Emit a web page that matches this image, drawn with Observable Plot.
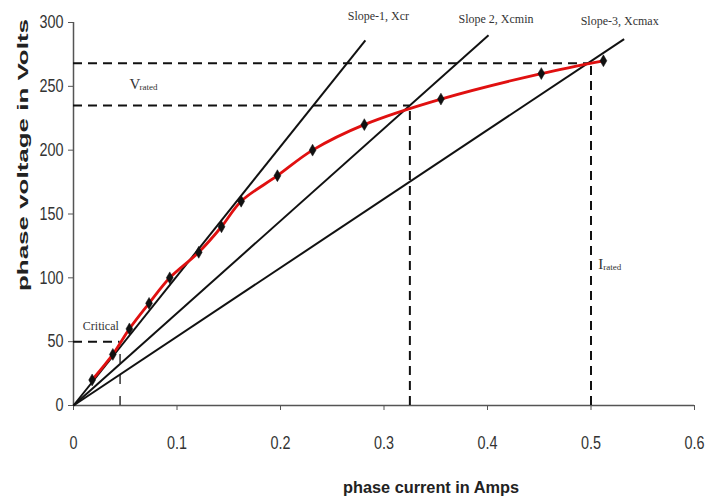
<!DOCTYPE html>
<html>
<head>
<meta charset="utf-8">
<script src="https://cdn.jsdelivr.net/npm/d3@7"></script>
<script src="https://cdn.jsdelivr.net/npm/@observablehq/plot@0.6"></script>
<style>
  html, body { margin: 0; padding: 0; background: #fff; }
  #chart svg { display: block; }
</style>
</head>
<body>
<div id="chart"></div>
<script>
// Measured magnetisation points (phase current A, phase voltage V)
const current = [0.018, 0.038, 0.054, 0.073, 0.093, 0.121, 0.143, 0.162, 0.197, 0.231, 0.281, 0.355, 0.452, 0.512];
const voltage = [20, 40, 60, 80, 100, 120, 140, 160, 180, 200, 220, 240, 260, 270];

// Slope lines from origin: name, end current, end voltage
const slopeNames = ["Slope-1, Xcr", "Slope 2, Xcmin", "Slope-3, Xcmax"];
const slopeEndI = [0.282, 0.401, 0.532];
const slopeEndV = [286, 290, 287];

// Reference levels
const vRated = 268, vMin = 235, vCritical = 50;
const iRated = 0.5, iMin = 0.325, iCritical = 0.045;

// Axis ticks
const xTicks = [0, 0.1, 0.2, 0.3, 0.4, 0.5, 0.6];
const yTicks = [0, 50, 100, 150, 200, 250, 300];

// Annotation labels (data units)
const slopeLabelI = [0.265, 0.372, 0.490];
const slopeLabelV = [305, 303, 301];
const vLabel = {main: "V", sub: "rated", x: 0.054, y: 252};
const iLabel = {main: "I", sub: "rated", x: 0.507, y: 111};
const criticalLabel = {text: "Critical", x: 0.009, y: 62};

const xTitle = "phase current in Amps";
const yTitle = "phase voltage in Volts";

const points = current.map((c, i) => ({x: c, y: voltage[i]}));
const slopes = slopeNames.map((n, i) => ({name: n, x1: 0, y1: 0, x2: slopeEndI[i], y2: slopeEndV[i]}));
const slopeLabels = slopeNames.map((n, i) => ({text: n, x: slopeLabelI[i], y: slopeLabelV[i]}));
const dashedH = [
  {x1: 0, x2: iRated, y: vRated},
  {x1: 0, x2: iMin, y: vMin},
  {x1: 0, x2: iCritical, y: vCritical}
];
const dashedV = [
  {x: iMin, y1: 0, y2: vMin},
  {x: iRated, y1: 0, y2: vRated}
];
const criticalV = [{x: iCritical, y1: 0, y2: 40}];

const sans = "'Liberation Sans', Arial, sans-serif";
const serif = "'Liberation Serif', 'Times New Roman', serif";

const plot = Plot.plot({
  width: 705,
  height: 499,
  marginLeft: 73,
  marginRight: 11,
  marginTop: 22,
  marginBottom: 94,
  style: {background: "#fff", overflow: "visible"},
  x: {domain: [0, 0.6]},
  y: {domain: [0, 300]},
  marks: [
    Plot.axisX({ticks: xTicks, tickSize: 5, tickPadding: 26, label: null, stroke: "#555",
      fontSize: 18, fontFamily: sans, fill: "#333", tickFormat: d => String(d)}),
    Plot.axisY({ticks: yTicks, tickSize: 5, tickPadding: 5, label: null, stroke: "#555",
      fontSize: 18, fontFamily: sans, fill: "#333"}),
    Plot.ruleX([0], {y1: 0, y2: 300, stroke: "#555", strokeWidth: 1.5}),
    Plot.ruleY([0], {x1: 0, x2: 0.6, stroke: "#555", strokeWidth: 1.5}),
    // dashed reference lines
    Plot.ruleY(dashedH, {y: "y", x1: "x1", x2: "x2", stroke: "#111", strokeWidth: 2, strokeDasharray: "9,6"}),
    Plot.ruleX(dashedV, {x: "x", y1: "y1", y2: "y2", stroke: "#111", strokeWidth: 2, strokeDasharray: "9,6"}),
    Plot.ruleX(criticalV, {x: "x", y1: "y1", y2: "y2", stroke: "#333", strokeWidth: 1.5, strokeDasharray: "9,12"}),
    // slope lines
    Plot.link(slopes, {x1: "x1", y1: "y1", x2: "x2", y2: "y2", stroke: "#111", strokeWidth: 2}),
    // red magnetisation curve
    Plot.line(points, {x: "x", y: "y", stroke: "#e01010", strokeWidth: 2.8, curve: "catmull-rom"}),
    Plot.dot(points, {x: "x", y: "y", symbol: "diamond", r: 3.6, fill: "#111", stroke: "#111", strokeWidth: 0.5}),
    // labels
    Plot.text(slopeLabels, {x: "x", y: "y", text: "text", textAnchor: "start", fontFamily: serif, fontSize: 12, fill: "#333"}),
    Plot.text([vLabel], {x: "x", y: "y", text: "main", textAnchor: "start", fontFamily: serif, fontSize: 15, fill: "#333"}),
    Plot.text([vLabel], {x: "x", y: "y", text: "sub", textAnchor: "start", fontFamily: serif, fontSize: 9, dx: 10, dy: 3, fill: "#333"}),
    Plot.text([iLabel], {x: "x", y: "y", text: "main", textAnchor: "start", fontFamily: serif, fontSize: 15, fill: "#333"}),
    Plot.text([iLabel], {x: "x", y: "y", text: "sub", textAnchor: "start", fontFamily: serif, fontSize: 9, dx: 5, dy: 3, fill: "#333"}),
    Plot.text([criticalLabel], {x: "x", y: "y", text: "text", textAnchor: "start", fontFamily: serif, fontSize: 12, fill: "#333"})
  ]
});

document.getElementById("chart").appendChild(plot);

// narrow the tick labels to match the condensed look of the original
const tickLabels = new Set([...xTicks.map(String), ...yTicks.map(String)]);
d3.select(plot).selectAll("text").each(function() {
  if (tickLabels.has(this.textContent)) {
    const w = this.getComputedTextLength();
    this.setAttribute("textLength", (w * 0.8).toFixed(1));
    this.setAttribute("lengthAdjust", "spacingAndGlyphs");
  }
});

// axis titles
const svg = d3.select(plot);
svg.append("text")
  .attr("transform", "translate(22,155) rotate(-90)")
  .attr("text-anchor", "middle")
  .attr("dominant-baseline", "central")
  .attr("font-family", sans)
  .attr("font-weight", "bold")
  .attr("font-size", 15)
  .attr("fill", "#222")
  .attr("textLength", 272)
  .attr("lengthAdjust", "spacingAndGlyphs")
  .text(yTitle);
svg.append("text")
  .attr("transform", "translate(431,487)")
  .attr("text-anchor", "middle")
  .attr("dominant-baseline", "central")
  .attr("font-family", sans)
  .attr("font-weight", "bold")
  .attr("font-size", 17)
  .attr("fill", "#222")
  .attr("textLength", 176)
  .attr("lengthAdjust", "spacingAndGlyphs")
  .text(xTitle);
</script>
</body>
</html>
